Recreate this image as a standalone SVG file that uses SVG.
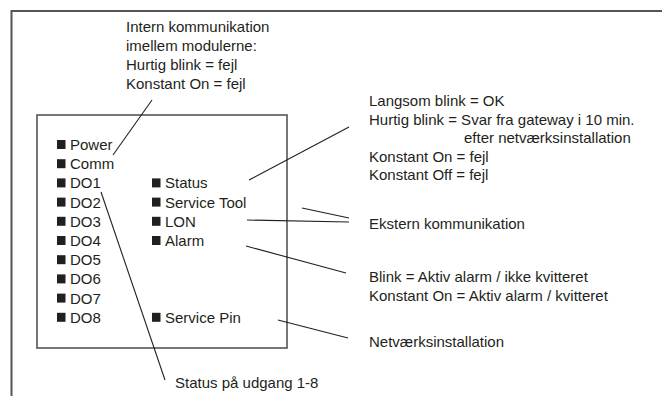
<svg xmlns="http://www.w3.org/2000/svg" width="662" height="396" viewBox="0 0 662 396">
<style>
text{font-family:"Liberation Sans",Arial,sans-serif;font-size:15px;fill:#231f20}
.frame{fill:none;stroke:#555;stroke-width:2}
.box{fill:none;stroke:#555;stroke-width:1.6}
.led{fill:#231f20}
.conn line{stroke:#231f20;stroke-width:1.1}
</style>
<rect width="662" height="396" fill="#fff"/>
<path class="frame" d="M11.5,396 V11 H662"/>
<g id="module">
<rect class="box" x="37" y="115" width="250" height="233"/>
</g>
<g id="leds-left">
<rect class="led" x="57" y="140" width="8.5" height="9"/><text x="70" y="150">Power</text>
<rect class="led" x="57" y="159.2" width="8.5" height="9"/><text x="70" y="169.2">Comm</text>
<rect class="led" x="57" y="178.4" width="8.5" height="9"/><text x="70" y="188.4">DO1</text>
<rect class="led" x="57" y="197.6" width="8.5" height="9"/><text x="70" y="207.6">DO2</text>
<rect class="led" x="57" y="216.8" width="8.5" height="9"/><text x="70" y="226.8">DO3</text>
<rect class="led" x="57" y="236" width="8.5" height="9"/><text x="70" y="246">DO4</text>
<rect class="led" x="57" y="255.2" width="8.5" height="9"/><text x="70" y="265.2">DO5</text>
<rect class="led" x="57" y="274.4" width="8.5" height="9"/><text x="70" y="284.4">DO6</text>
<rect class="led" x="57" y="293.6" width="8.5" height="9"/><text x="70" y="303.6">DO7</text>
<rect class="led" x="57" y="312.8" width="8.5" height="9"/><text x="70" y="322.8">DO8</text>
</g>
<g id="leds-right">
<rect class="led" x="152" y="178.4" width="8.5" height="9"/><text x="165" y="188.4">Status</text>
<rect class="led" x="152" y="197.6" width="8.5" height="9"/><text x="165" y="207.6">Service Tool</text>
<rect class="led" x="152" y="216.8" width="8.5" height="9"/><text x="165" y="226.8">LON</text>
<rect class="led" x="152" y="236" width="8.5" height="9"/><text x="165" y="246">Alarm</text>
<rect class="led" x="152" y="312.8" width="8.5" height="9"/><text x="165" y="322.8">Service Pin</text>
</g>
<g id="note-intern">
<text x="126" y="31.5">Intern kommunikation</text>
<text x="126" y="50.5">imellem modulerne:</text>
<text x="126" y="69.5">Hurtig blink = fejl</text>
<text x="126" y="88.5">Konstant On = fejl</text>
</g>
<g id="note-status">
<text x="369" y="105.5">Langsom blink = OK</text>
<text x="369" y="124.5">Hurtig blink = Svar fra gateway i 10 min.</text>
<text x="464" y="143">efter netværksinstallation</text>
<text x="369" y="161.5">Konstant On = fejl</text>
<text x="369" y="180">Konstant Off = fejl</text>
</g>
<g id="note-ekstern"><text x="369" y="229">Ekstern kommunikation</text></g>
<g id="note-alarm">
<text x="369" y="282">Blink = Aktiv alarm / ikke kvitteret</text>
<text x="369" y="301">Konstant On = Aktiv alarm / kvitteret</text>
</g>
<g id="note-pin"><text x="369" y="347">Netværksinstallation</text></g>
<g id="note-do"><text x="175" y="388">Status på udgang 1-8</text></g>
<g class="conn" id="connectors">
<line x1="113" y1="155" x2="152" y2="100"/>
<line x1="249" y1="180" x2="349" y2="127"/>
<line x1="302" y1="208" x2="349" y2="218"/>
<line x1="247" y1="220" x2="349" y2="222"/>
<line x1="246" y1="246" x2="346" y2="273"/>
<line x1="278" y1="320" x2="348" y2="338"/>
<line x1="101" y1="192" x2="165" y2="380"/>
</g>
</svg>
